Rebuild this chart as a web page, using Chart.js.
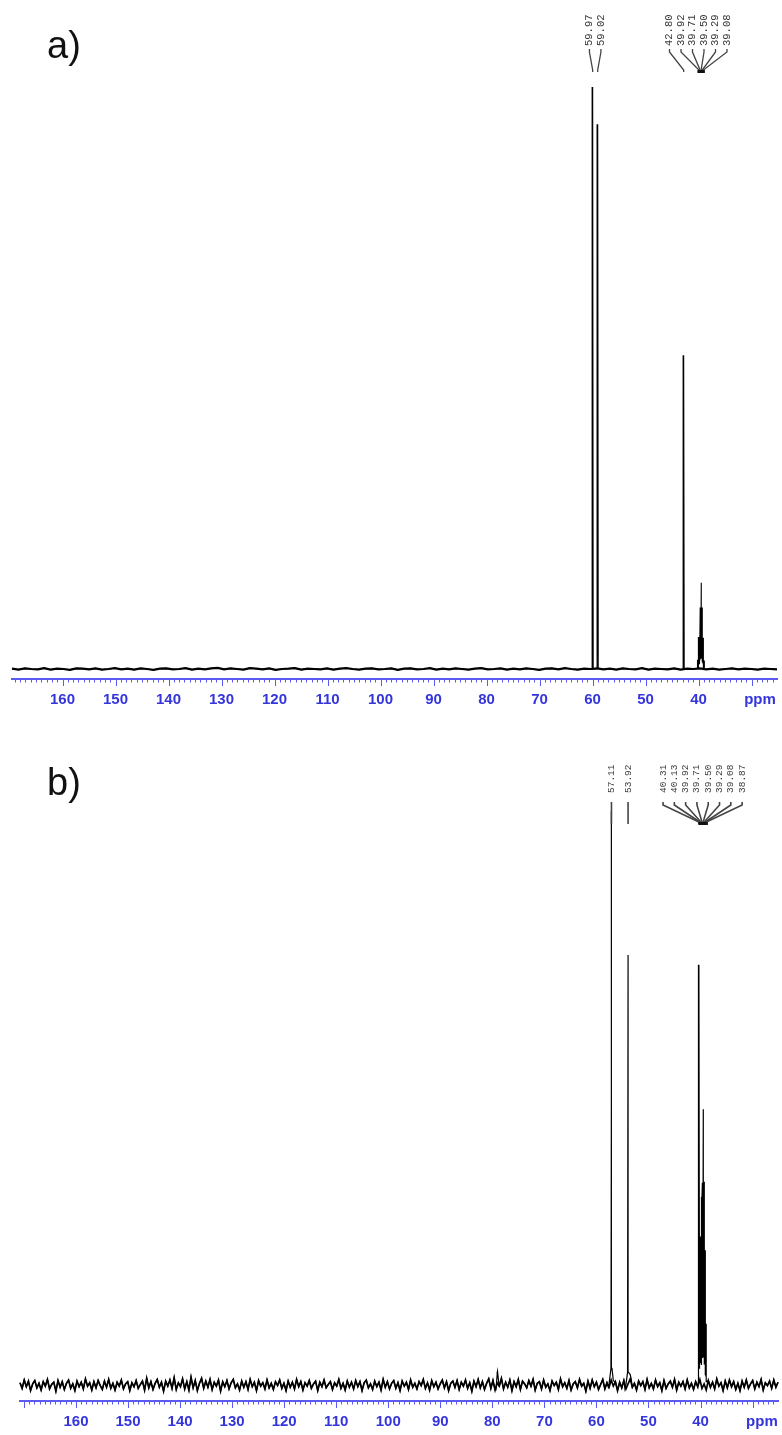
<!DOCTYPE html>
<html><head><meta charset="utf-8">
<script src="https://cdn.jsdelivr.net/npm/chart.js@4.4.1/dist/chart.umd.min.js"></script>
<style>
html,body{margin:0;padding:0;background:#fff;}
body{width:782px;height:1435px;position:relative;overflow:hidden;}
.panel{position:absolute;left:0;width:782px;}
#wrapA{top:0;height:720px;}
#wrapB{top:720px;height:715px;}
.tag{position:absolute;font-family:"Liberation Sans",Arial,sans-serif;font-size:38px;line-height:1;color:#111;}
</style></head><body>
<div class="panel" id="wrapA"><canvas id="chartA" width="782" height="720"></canvas></div>
<div class="panel" id="wrapB"><canvas id="chartB" width="782" height="715"></canvas></div>
<div class="tag" style="left:47px;top:26px">a)</div>
<div class="tag" style="left:47px;top:763px">b)</div>
<script>
// ---------- DATA ----------
const tickLabels = [40,50,60,70,80,90,100,110,120,130,140,150,160];
const unitLabel = 'ppm';

// Panel a) baseline noise (intensity units, tallest peak = 100)
const noiseA = [
0.05,-0.1,0.1,0.0,-0.05,0.15,-0.1,0.05,0.0,-0.15,0.1,0.05,-0.05,0.1,-0.1,0.0,0.15,-0.05,0.05,-0.1,
0.1,0.0,-0.15,0.05,0.1,-0.05,0.0,0.15,-0.1,0.05,-0.05,0.1,0.2,-0.05,0.1,0.0,-0.1,0.15,0.05,-0.05,
0.1,-0.15,0.0,0.05,0.15,-0.1,0.05,0.0,-0.05,0.1,-0.1,0.05,0.15,0.0,-0.1,0.05,0.1,-0.05,0.0,0.1,
-0.15,0.05,0.1,-0.05,0.0,0.15,-0.1,0.05,-0.05,0.1,0.0,-0.1,0.05,0.15,-0.05,0.0,0.1,-0.1,0.05,-0.05,
0.1,0.0,-0.15,0.05,0.1,-0.05,0.15,0.0,-0.1,0.05,0.0,0.1,-0.05,0.05,-0.1,0.1,0.0,-0.05,0.15,-0.1,
0.05,0.0,-0.05,0.1,-0.1,0.05,0.0,0.1,-0.05,0.05,-0.1,0.0,0.1,-0.05,0.05,0.0,-0.1,0.05,0.0,-0.05];
const noiseRangeA = [169.53, 25.19];
const peakPpmA    = [59.97, 59.02, 42.80, 40.13, 39.92, 39.71, 39.50, 39.29, 39.08, 38.87, 39.50];
const peakHeightA = [100,   93.5,  54,    1.5,   5,     9,     12.2,  9,     5,     1.5,   2.5];
const peakWidthA  = [0.1,   0.1,   0.1,   0.06,  0.06,  0.06,  0.06,  0.06,  0.06,  0.06,  0.5];
const labelGroupsA = [[59.97, 59.02], [42.80, 39.92, 39.71, 39.50, 39.29, 39.08]];

// Panel b) baseline noise
const noiseB = [
0.4,-0.6,0.9,-0.3,0.7,-1.0,0.2,0.8,-0.5,0.3,-0.9,0.6,-0.2,1.0,-0.7,0.1,0.5,-1.1,0.8,-0.4,
0.6,-0.8,0.3,0.9,-0.6,0.2,-1.0,0.7,-0.3,0.5,-0.7,1.1,-0.2,0.4,-0.9,0.6,-0.5,0.8,-0.1,-0.8,
0.7,-0.4,1.0,-0.6,0.3,-0.9,0.5,-0.2,0.9,-0.7,0.2,0.6,-1.0,0.4,-0.3,0.8,-0.6,0.1,0.7,-0.9,
1.2,-0.5,0.6,-0.8,0.3,1.0,-0.4,0.5,-1.1,0.7,-0.2,0.9,-0.6,1.3,-0.8,0.4,-0.3,1.1,-0.7,0.6,
-0.9,1.4,-0.5,0.8,-1.0,0.3,1.2,-0.6,0.7,-0.4,1.0,-0.8,0.5,-0.2,0.9,-1.1,0.6,-0.3,0.8,-0.7,
0.4,1.0,-0.5,0.2,-0.9,0.7,-0.4,0.6,-0.8,1.0,-0.3,0.5,-1.0,0.8,-0.2,0.4,-0.7,0.9,-0.5,0.3,
-0.8,0.6,-0.1,0.9,-0.6,0.3,-1.0,0.7,-0.4,0.5,-0.7,1.0,-0.3,0.6,-0.9,0.4,-0.2,0.8,-0.6,0.2,
0.7,-1.0,0.5,-0.3,0.9,-0.5,0.1,0.6,-0.8,0.4,-0.2,1.0,-0.6,0.3,-0.9,0.7,-0.4,0.5,-0.7,0.8,
-0.3,0.6,-1.0,0.4,0.9,-0.5,0.2,-0.8,0.7,-0.3,0.5,-0.9,1.0,-0.4,0.6,-0.7,0.3,0.8,-0.6,0.4,
-1.0,0.7,-0.2,0.5,-0.8,0.9,-0.4,0.3,-0.7,0.6,-0.1,1.0,-0.6,0.4,-0.9,0.8,-0.3,0.5,-0.7,0.2,
0.9,-0.5,0.6,-1.0,0.3,0.7,-0.4,0.8,-0.8,0.5,-0.2,0.9,-0.6,0.4,-1.1,0.7,-0.3,1.0,-0.5,0.6,
-0.8,0.3,1.1,-0.6,0.8,-0.9,0.4,-0.2,1.2,-0.7,0.5,-0.4,0.9,-1.0,0.6,-0.3,1.0,-0.8,0.7,0.2,
-0.5,0.8,-0.2,1.0,-0.9,0.3,0.6,-0.7,0.9,-0.4,0.2,-1.0,0.7,-0.1,0.5,-0.8,1.1,-0.3,0.4,-0.6,
0.8,-0.9,0.2,0.6,-0.5,1.0,-0.2,0.3,-1.1,0.7,-0.6,0.9,-0.3,0.5,-0.8,0.1,1.0,-0.7,0.4,-0.4,
0.9,-0.2,0.6,-1.0,0.5,-0.5,0.8,-0.7,0.2,1.1,-0.4,0.3,-0.9,0.7,-0.1,0.6,-0.8,1.0,-0.5,0.3,
-0.7,0.9,-0.3,0.4,-1.0,0.8,-0.6,0.2,0.7,-0.4,1.0,-0.9,0.5,-0.2,0.6,-0.7,0.9,-0.5,0.3,-0.8,
0.6,-0.3,1.0,-0.6,0.2,-0.9,0.8,-0.4,0.5,-0.7,1.1,-0.2,0.4,-1.0,0.7,-0.5,0.9,-0.3,0.6,-0.8,
0.3,-1.0,0.7,-0.4,0.9,-0.6,0.2,0.8,-0.7,0.5,-0.3,1.0,-0.9,0.4,-0.1,0.7,-0.6,0.9,-0.4,0.5];
const noiseRangeB = [170.76, 25.11];
const peakPpmB    = [57.11, 53.92, 40.31, 40.13, 39.92, 39.71, 39.50, 39.29, 39.08, 38.87, 79.0, 57.11, 53.92, 39.55];
const peakHeightB = [100,   74.8,  73.3,  10,    22,    32,    43.8,  32,    22,    10,    2.0,  2.5,   2.5,   6];
const peakWidthB  = [0.1,   0.1,   0.08,  0.07,  0.07,  0.07,  0.07,  0.07,  0.07,  0.07,  0.3,  0.6,   0.6,   1.0];
const labelGroupsB = [[57.11, 53.92], [40.31, 40.13, 39.92, 39.71, 39.50, 39.29, 39.08, 38.87]];

// ---------- BUILD ----------
function noiseXs(noise, range) {
  const n = noise.length;
  return noise.map((_, i) => range[0] + (range[1] - range[0]) * i / (n - 1));
}
function buildSpectrum(noise, range, pp, ph, pw) {
  const n = noise.length;
  const xs = noiseXs(noise, range);
  const peakSum = x => {
    let s = 0;
    for (let k = 0; k < pp.length; k++) {
      const t = 1 - Math.abs(x - pp[k]) / pw[k];
      if (t > 0) s += ph[k] * t;
    }
    return s;
  };
  const nearest = x => {
    let bi = 0, bd = Infinity;
    for (let i = 0; i < n; i++) { const d = Math.abs(xs[i] - x); if (d < bd) { bd = d; bi = i; } }
    return noise[bi];
  };
  const pts = xs.map((x, i) => ({x, y: noise[i] + peakSum(x)}));
  pp.forEach((p, k) => {
    [p - pw[k], p, p + pw[k]].forEach(x => pts.push({x, y: nearest(x) + peakSum(x)}));
  });
  pts.sort((a, b) => a.x - b.x);
  return pts;
}

const ppmTicks = {
  id: 'ppmTicks',
  afterDraw(chart) {
    const s = chart.scales.x, ctx = chart.ctx;
    ctx.save();
    ctx.strokeStyle = '#5b5bf2';
    ctx.lineWidth = 1;
    for (let v = Math.ceil(s.min); v <= Math.floor(s.max); v++) {
      const px = Math.round(s.getPixelForValue(v)) + 0.5;
      const len = v % 10 === 0 ? 7 : 3.5;
      ctx.beginPath();
      ctx.moveTo(px, s.top);
      ctx.lineTo(px, s.top + len);
      ctx.stroke();
    }
    ctx.restore();
  }
};

const peakLabels = {
  id: 'peakLabels',
  afterDraw(chart, args, o) {
    const s = chart.scales.x, ctx = chart.ctx;
    ctx.save();
    ctx.font = o.fontSize + 'px "Liberation Mono", "DejaVu Sans Mono", monospace';
    (o.groups || []).forEach(g => {
      const pix = g.map(v => s.getPixelForValue(v));
      const n = g.length;
      const center = pix.reduce((a, b) => a + b, 0) / n;
      const natural = n > 1 ? Math.abs(pix[n - 1] - pix[0]) / (n - 1) : 0;
      const sp = Math.max(o.minSpacing, natural);
      const sorted = pix.slice().sort((a, b) => a - b);
      const median = sorted[Math.floor(n / 2)];
      g.forEach((v, i) => {
        const lx = n > 1 && natural >= o.minSpacing ? pix[i] : center + (i - (n - 1) / 2) * sp;
        const px = pix[i];
        ctx.save();
        ctx.translate(lx, o.textY);
        ctx.rotate(-Math.PI / 2);
        ctx.fillStyle = '#3a3a3a';
        ctx.textAlign = 'left';
        ctx.textBaseline = 'middle';
        ctx.fillText(v.toFixed(2), 0, 0);
        ctx.restore();
        ctx.strokeStyle = '#444';
        ctx.lineWidth = o.leaderWidth;
        ctx.beginPath();
        ctx.moveTo(lx, o.leaderTop);
        ctx.lineTo(lx, o.leaderTop + 3);
        ctx.lineTo(px, o.leaderBottom - 2);
        ctx.lineTo(px, o.leaderBottom);
        ctx.stroke();
        if (n >= 3 && Math.abs(px - median) < 4) {
          ctx.fillStyle = '#111';
          ctx.fillRect(px - 1.5, o.leaderBottom - 2, 3, 3);
        }
      });
    });
    ctx.restore();
  }
};

function makeChart(id, c) {
  const xs = noiseXs(c.noise, c.noiseRange);
  return new Chart(document.getElementById(id), {
    type: 'scatter',
    data: { datasets: [
      { // baseline trace (drawn heavier, as in the printed spectrum)
        data: xs.map((x, i) => ({x, y: c.noise[i]})),
        showLine: true, borderColor: '#000', borderWidth: c.baseWidth,
        pointRadius: 0, pointHoverRadius: 0, tension: 0, fill: false, clip: false
      },
      { // full spectrum
        data: buildSpectrum(c.noise, c.noiseRange, c.pp, c.ph, c.pw),
        showLine: true, borderColor: '#000', borderWidth: c.lineWidth,
        pointRadius: 0, pointHoverRadius: 0, tension: 0, fill: false, clip: false
      }
    ]},
    options: {
      responsive: false, animation: false, events: [],
      layout: { padding: { left: c.padLeft, right: c.padRight, top: c.padTop, bottom: 0 } },
      scales: {
        x: {
          type: 'linear', reverse: true, min: c.ppmMin, max: c.ppmMax,
          afterBuildTicks: sc => { sc.ticks = [{value: c.unitAt}].concat(tickLabels.map(v => ({value: v}))); },
          afterFit: sc => { sc.height = c.axisHeight; sc.paddingLeft = 0; sc.paddingRight = 0; },
          grid: { display: false, drawTicks: false },
          border: { display: true, color: '#5b5bf2', width: 2 },
          ticks: {
            autoSkip: false, maxRotation: 0, minRotation: 0, padding: 12, color: '#3535dc',
            font: { family: '"Liberation Sans", Arial, sans-serif', size: 15, weight: 'bold' },
            callback: v => v === c.unitAt ? unitLabel : String(v)
          }
        },
        y: { display: false, min: c.yMin, max: 100 }
      },
      plugins: {
        legend: { display: false }, tooltip: { enabled: false },
        peakLabels: c.labels
      }
    },
    plugins: [ppmTicks, peakLabels]
  });
}

makeChart('chartA', {
  noise: noiseA, noiseRange: noiseRangeA, pp: peakPpmA, ph: peakHeightA, pw: peakWidthA,
  ppmMin: 25.19, ppmMax: 169.53, unitAt: 28.4, yMin: -1.72, lineWidth: 1.1, baseWidth: 2.2,
  padLeft: 12, padRight: 5, padTop: 87, axisHeight: 41,
  labels: { groups: labelGroupsA, fontSize: 10.5, textY: 46, leaderTop: 49, leaderBottom: 72, minSpacing: 11.5, leaderWidth: 1.3 }
});
makeChart('chartB', {
  noise: noiseB, noiseRange: noiseRangeB, pp: peakPpmB, ph: peakHeightB, pw: peakWidthB,
  ppmMin: 25.11, ppmMax: 170.76, unitAt: 28.2, yMin: -2.88, lineWidth: 1.2, baseWidth: 1.7,
  padLeft: 20, padRight: 4, padTop: 110, axisHeight: 34,
  labels: { groups: labelGroupsB, fontSize: 9.5, textY: 73, leaderTop: 82, leaderBottom: 104, minSpacing: 11.3, leaderWidth: 1.6 }
});
</script>
</body></html>
